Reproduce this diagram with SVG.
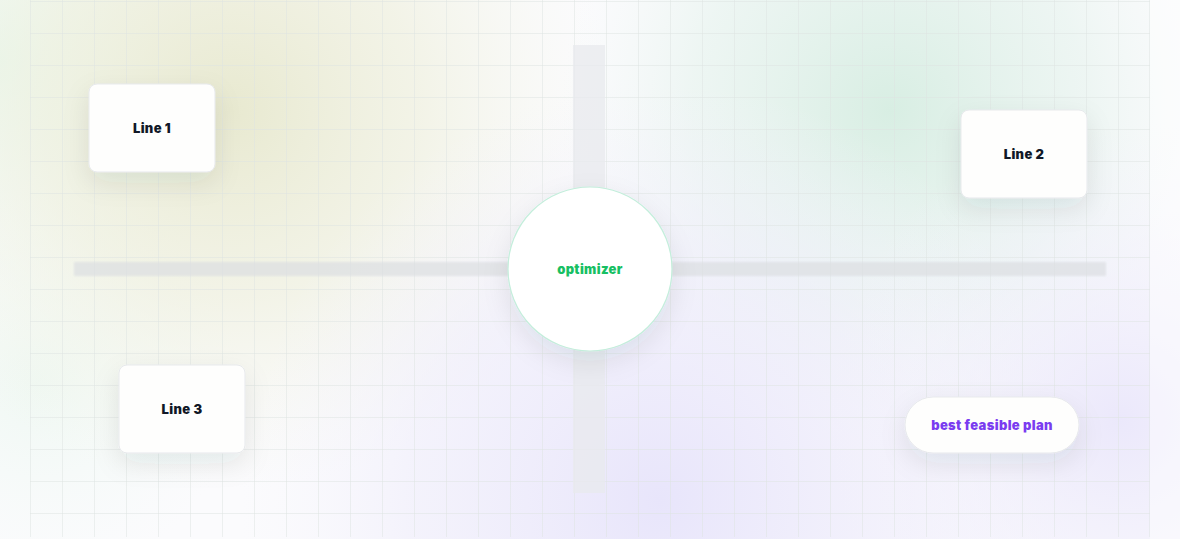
<svg xmlns="http://www.w3.org/2000/svg" width="1180" height="539" viewBox="0 0 1180 539">
<defs>
<style>
.lbl{font-family:Inter,"Liberation Sans",sans-serif;font-weight:900;font-size:13px;letter-spacing:0.35px;text-anchor:middle;dominant-baseline:central}
.card{fill:#fefefd;stroke:#e7e9ec;stroke-width:1}
.g{stroke:#dde3e2;stroke-width:1;stroke-opacity:0.5}
</style>
<radialGradient id="gTL" cx="230" cy="110" r="380" gradientUnits="userSpaceOnUse">
<stop offset="0" stop-color="#e8e9d0" stop-opacity="1"/>
<stop offset="0.5" stop-color="#eff0de" stop-opacity="0.7"/>
<stop offset="1" stop-color="#f4f6ea" stop-opacity="0"/>
</radialGradient>
<radialGradient id="gTR" cx="890" cy="110" r="330" gradientUnits="userSpaceOnUse">
<stop offset="0" stop-color="#d8eee3" stop-opacity="1"/>
<stop offset="0.6" stop-color="#e4f2ec" stop-opacity="0.6"/>
<stop offset="1" stop-color="#eef6f3" stop-opacity="0"/>
</radialGradient>
<radialGradient id="gB" cx="660" cy="500" r="420" gradientUnits="userSpaceOnUse">
<stop offset="0" stop-color="#e8e5fb" stop-opacity="1"/>
<stop offset="0.6" stop-color="#efedfb" stop-opacity="0.6"/>
<stop offset="1" stop-color="#f5f4fc" stop-opacity="0"/>
</radialGradient>
<radialGradient id="gBR" cx="1120" cy="420" r="300" gradientUnits="userSpaceOnUse">
<stop offset="0" stop-color="#ebe8fb" stop-opacity="1"/>
<stop offset="1" stop-color="#f4f2fc" stop-opacity="0"/>
</radialGradient>
<radialGradient id="gL" cx="0" cy="60" r="260" gradientUnits="userSpaceOnUse">
<stop offset="0" stop-color="#e6f8ef" stop-opacity="1"/>
<stop offset="1" stop-color="#f2faf6" stop-opacity="0"/>
</radialGradient>
<radialGradient id="gLB" cx="40" cy="380" r="200" gradientUnits="userSpaceOnUse">
<stop offset="0" stop-color="#ecf7f0" stop-opacity="0.8"/>
<stop offset="1" stop-color="#f2faf6" stop-opacity="0"/>
</radialGradient>
<filter id="sh" x="-50%" y="-50%" width="200%" height="200%">
<feDropShadow dx="0" dy="10" stdDeviation="13" flood-color="#1e2a3a" flood-opacity="0.09"/>
</filter>
<filter id="blur" x="-10%" y="-200%" width="120%" height="500%">
<feGaussianBlur stdDeviation="0.8"/>
</filter>
</defs>

<g id="background">
<rect x="0" y="0" width="1180" height="539" fill="#fbfbfd"/>
<rect x="0" y="0" width="1180" height="539" fill="url(#gL)"/>
<rect x="0" y="0" width="1180" height="539" fill="url(#gLB)"/>
<rect x="0" y="0" width="1180" height="539" fill="url(#gTL)"/>
<rect x="0" y="0" width="1180" height="539" fill="url(#gTR)"/>
<rect x="0" y="0" width="1180" height="539" fill="url(#gB)"/>
<rect x="0" y="0" width="1180" height="539" fill="url(#gBR)"/>
<rect x="1150" y="0" width="30" height="539" fill="#ffffff" opacity="0.45"/>
</g>

<g id="grid">
<path class="g" d="M30.5 0V537M62.5 0V537M94.5 0V537M126.5 0V537M158.5 0V537M190.5 0V537M222.5 0V537M254.5 0V537M286.5 0V537M318.5 0V537M350.5 0V537M382.5 0V537M414.5 0V537M446.5 0V537M478.5 0V537M510.5 0V537M542.5 0V537M574.5 0V537M606.5 0V537M638.5 0V537M670.5 0V537M702.5 0V537M734.5 0V537M766.5 0V537M798.5 0V537M830.5 0V537M862.5 0V537M894.5 0V537M926.5 0V537M958.5 0V537M990.5 0V537M1022.5 0V537M1054.5 0V537M1086.5 0V537M1118.5 0V537M1149.5 0V537"/>
<path class="g" d="M30 1.5H1150M30 33.5H1150M30 65.5H1150M30 97.5H1150M30 129.5H1150M30 161.5H1150M30 193.5H1150M30 225.5H1150M30 257.5H1150M30 289.5H1150M30 321.5H1150M30 353.5H1150M30 385.5H1150M30 417.5H1150M30 449.5H1150M30 481.5H1150M30 513.5H1150"/>
</g>

<g id="connectors">
<rect x="573" y="45" width="32" height="448" fill="#e8e9ed" opacity="0.75"/>
<rect x="74" y="262" width="1032" height="14" fill="#dcdfe2" opacity="0.7" filter="url(#blur)"/>
</g>

<g id="optimizer">
<circle cx="590" cy="269" r="82" fill="#ffffff" stroke="#c3eedb" stroke-width="1.2" filter="url(#sh)"/>
<text class="lbl" x="590" y="269" fill="#17bf63">optimizer</text>
</g>

<g id="line1">
<rect class="card" x="89" y="84" width="126" height="88" rx="8" filter="url(#sh)"/>
<text class="lbl" x="152" y="128" fill="#111827">Line 1</text>
</g>

<g id="line2">
<rect class="card" x="961" y="110" width="126" height="88" rx="8" filter="url(#sh)"/>
<text class="lbl" x="1024" y="154" fill="#111827">Line 2</text>
</g>

<g id="line3">
<rect class="card" x="119" y="365" width="126" height="88" rx="8" filter="url(#sh)"/>
<text class="lbl" x="182" y="409" fill="#111827">Line 3</text>
</g>

<g id="plan">
<rect class="card" x="905" y="397" width="174" height="56" rx="28" filter="url(#sh)"/>
<text class="lbl" x="992" y="425" fill="#7a3cf0">best feasible plan</text>
</g>
</svg>
